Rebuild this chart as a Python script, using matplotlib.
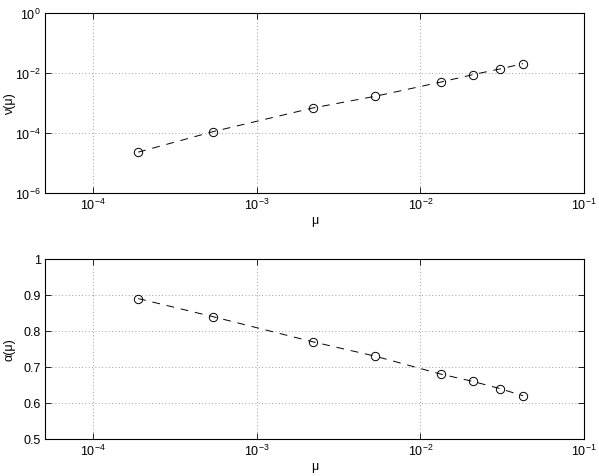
import matplotlib
matplotlib.use("Agg")
import matplotlib.pyplot as plt
from matplotlib.ticker import NullLocator, FixedLocator

# mu values
mu = [1.89e-4, 5.38e-4, 2.2e-3, 5.3e-3, 1.34e-2, 2.09e-2, 3.06e-2, 4.24e-2]
nu = [2.3e-5, 1.1e-4, 6.8e-4, 1.67e-3, 5.0e-3, 8.8e-3, 1.36e-2, 2.05e-2]
alpha = [0.89, 0.84, 0.77, 0.73, 0.68, 0.66, 0.64, 0.62]

plt.rcParams["font.family"] = ["Liberation Sans", "DejaVu Sans"]
plt.rcParams["mathtext.default"] = "regular"

fig = plt.figure(figsize=(5.99, 4.77), dpi=100)
ax1 = fig.add_axes([0.075, 0.5933, 0.900, 0.3774])
ax2 = fig.add_axes([0.075, 0.0776, 0.900, 0.3774])


def style(ax):
    ax.set_xscale("log")
    ax.set_xlim(5.09e-5, 1e-1)
    ax.xaxis.set_major_locator(FixedLocator([1e-4, 1e-3, 1e-2, 1e-1]))
    ax.xaxis.set_minor_locator(NullLocator())
    ax.grid(True, which="major", linestyle=(0, (1, 3)), color="#808080", linewidth=0.6)
    ax.tick_params(which="both", direction="in", top=True, right=True,
                   labelsize=9, length=4, width=0.6, pad=3)
    for s in ax.spines.values():
        s.set_linewidth(0.8)
    ax.set_xlabel("μ", fontsize=9, labelpad=1)
    ax.yaxis.set_label_coords(-0.054, 0.5)


ax1.plot(mu, nu, linestyle=(0, (8, 7)), color="black", linewidth=0.7,
         marker="o", markersize=6, markerfacecolor="none", markeredgewidth=0.7)
style(ax1)
ax1.set_yscale("log")
ax1.set_ylim(1e-6, 1)
ax1.yaxis.set_major_locator(FixedLocator([1e-6, 1e-4, 1e-2, 1]))
ax1.yaxis.set_minor_locator(NullLocator())
ax1.set_ylabel("ν(μ)", fontsize=9)

ax2.plot(mu, alpha, linestyle=(0, (8, 7)), color="black", linewidth=0.7,
         marker="o", markersize=6, markerfacecolor="none", markeredgewidth=0.7)
style(ax2)
ax2.set_ylim(0.5, 1)
ax2.set_yticks([0.5, 0.6, 0.7, 0.8, 0.9, 1])
ax2.set_yticklabels(["0.5", "0.6", "0.7", "0.8", "0.9", "1"])
ax2.set_ylabel("α(μ)", fontsize=9)

fig.savefig("out.png", dpi=100)
